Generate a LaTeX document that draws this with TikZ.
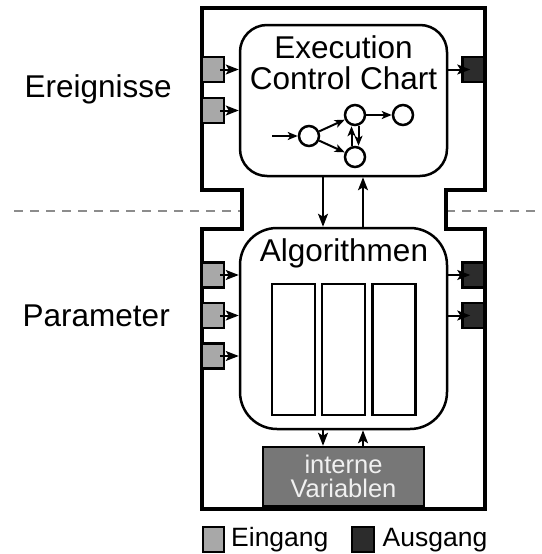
\documentclass[tikz,border=0pt]{standalone}
\usepackage{fontspec}
\setmainfont{Liberation Sans}
\usetikzlibrary{arrows.meta}

\definecolor{ingray}{HTML}{A8A8A8}
\definecolor{outgray}{HTML}{2C2C2C}
\definecolor{vargray}{HTML}{777777}
\definecolor{dashgray}{HTML}{8C8C8C}

\tikzset{
  frame/.style={line width=3.5pt, line join=miter},
  block/.style={draw, line width=2.5pt, inner sep=0pt},
  inbox/.style={draw, line width=2.5pt, fill=ingray, minimum width=22pt, minimum height=25pt, inner sep=0pt},
  outbox/.style={draw, line width=2.5pt, fill=outgray, minimum width=22pt, minimum height=25pt, inner sep=0pt},
  arr/.style={line width=2pt, -{Stealth[length=13pt, width=10pt, inset=3pt]}},
  sarr/.style={line width=2pt, -{Stealth[length=10pt, width=8pt, inset=2.5pt]}},
  state/.style={circle, draw, line width=2.5pt, minimum size=20pt, inner sep=0pt},
  bigtext/.style={inner sep=0pt, font=\fontsize{31.5}{31.5}\selectfont},
  column/.style={draw, line width=2.5pt, minimum width=43pt, minimum height=131pt, inner sep=0pt},
}

\begin{document}
\begin{tikzpicture}[x=1pt, y=-1pt]
\useasboundingbox (0,0) rectangle (541,554);

% separator between event and data part
\draw[dashgray, line width=2.5pt, dash pattern=on 9pt off 7pt] (14,211) -- (242,211);
\draw[dashgray, line width=2.5pt, dash pattern=on 9pt off 7pt] (446,211) -- (541,211);

% outer block outline with waist
\draw[frame] (202,8) -- (485,8) -- (485,190) -- (446,190) -- (446,229) -- (485,229)
  -- (485,509) -- (202,509) -- (202,229) -- (242,229) -- (242,190) -- (202,190) -- cycle;

% side labels
\node[bigtext, anchor=base west] (ereig) at (24.5,97) {Ereignisse};
\node[bigtext, anchor=base west] (param) at (22.5,326) {Parameter};

% execution control chart
\node[block, rounded corners=27pt, minimum width=207pt, minimum height=151pt] (ecc) at (343.5,100.5) {};
\node[bigtext, anchor=base] (ecc1) at (343.5,58) {Execution};
\node[bigtext, anchor=base] (ecc2) at (343.5,89) {Control Chart};

% small state machine
\coordinate (init) at (272,136);
\node[state] (s0) at (309,136) {};
\node[state] (s1) at (355,115) {};
\node[state] (s2) at (403,115) {};
\node[state] (s3) at (355,157) {};
\draw[sarr] (init) -- (s0);
\draw[sarr] (s0) -- (s1);
\draw[sarr] (s0) -- (s3);
\draw[sarr] (s1) -- (s2);
\draw[sarr] ([xshift=-3.5pt]s3.north) -- ([xshift=-3.5pt]s1.south);
\draw[sarr] ([xshift=3.5pt]s1.south) -- ([xshift=3.5pt]s3.north);

% algorithms block
\node[block, rounded corners=37pt, minimum width=207pt, minimum height=201pt] (alg) at (343.5,328.5) {};
\node[bigtext, anchor=base] (algtitle) at (344,261) {Algorithmen};
\node[column] (c1) at (293.5,349.5) {};
\node[column] (c2) at (343.5,349.5) {};
\node[column] (c3) at (394,349.5) {};

% internal variables
\node[block, fill=vargray, minimum width=161pt, minimum height=59pt] (vars) at (343.5,476.5) {};
\node[inner sep=0pt, anchor=base, text=white!94!black, font=\fontsize{25.5}{25.5}\selectfont] (vars1) at (343.5,473) {interne};
\node[inner sep=0pt, anchor=base, text=white!94!black, font=\fontsize{25.5}{25.5}\selectfont] (vars2) at (343.5,497) {Variablen};

% vertical connections
\coordinate (xdown) at (323,0);
\coordinate (xup) at (363,0);
\draw[arr] (ecc.south -| xdown) -- (alg.north -| xdown);
\draw[arr] (alg.north -| xup) -- (ecc.south -| xup);
\draw[arr] (alg.south -| xdown) -- (vars.north -| xdown);
\draw[arr] (vars.north -| xup) -- (alg.south -| xup);

% event inputs and output
\node[inbox] (ei1) at (213,69.5) {};
\node[inbox] (ei2) at (213,110.5) {};
\node[outbox] (eo1) at (473.5,69.5) {};
\draw[arr] ([xshift=-5pt]ei1.east) -- (ecc.west |- ei1);
\draw[arr] ([xshift=-5pt]ei2.east) -- (ecc.west |- ei2);
\draw[arr] (ecc.east |- eo1) -- ([xshift=9pt]eo1.west);

% data inputs and outputs
\node[inbox] (di1) at (213,275) {};
\node[inbox] (di2) at (213,315.5) {};
\node[inbox] (di3) at (213,356) {};
\node[outbox] (do1) at (473.5,275) {};
\node[outbox] (do2) at (473.5,315.5) {};
\draw[arr] ([xshift=-5pt]di1.east) -- (alg.west |- di1);
\draw[arr] ([xshift=-5pt]di2.east) -- (alg.west |- di2);
\draw[arr] ([xshift=-5pt]di3.east) -- (alg.west |- di3);
\draw[arr] (alg.east |- do1) -- ([xshift=9pt]do1.west);
\draw[arr] (alg.east |- do2) -- ([xshift=9pt]do2.west);

% legend
\node[inbox, minimum width=21pt, minimum height=25pt] (legin) at (213.5,539.5) {};
\node[inner sep=0pt, anchor=base west, font=\fontsize{26.5}{26.5}\selectfont] (legintext) at (231,546) {Eingang};
\node[outbox, minimum width=22pt, minimum height=25pt] (legout) at (363,539.5) {};
\node[inner sep=0pt, anchor=base west, font=\fontsize{26.5}{26.5}\selectfont] (legouttext) at (382.5,546) {Ausgang};
\end{tikzpicture}
\end{document}
